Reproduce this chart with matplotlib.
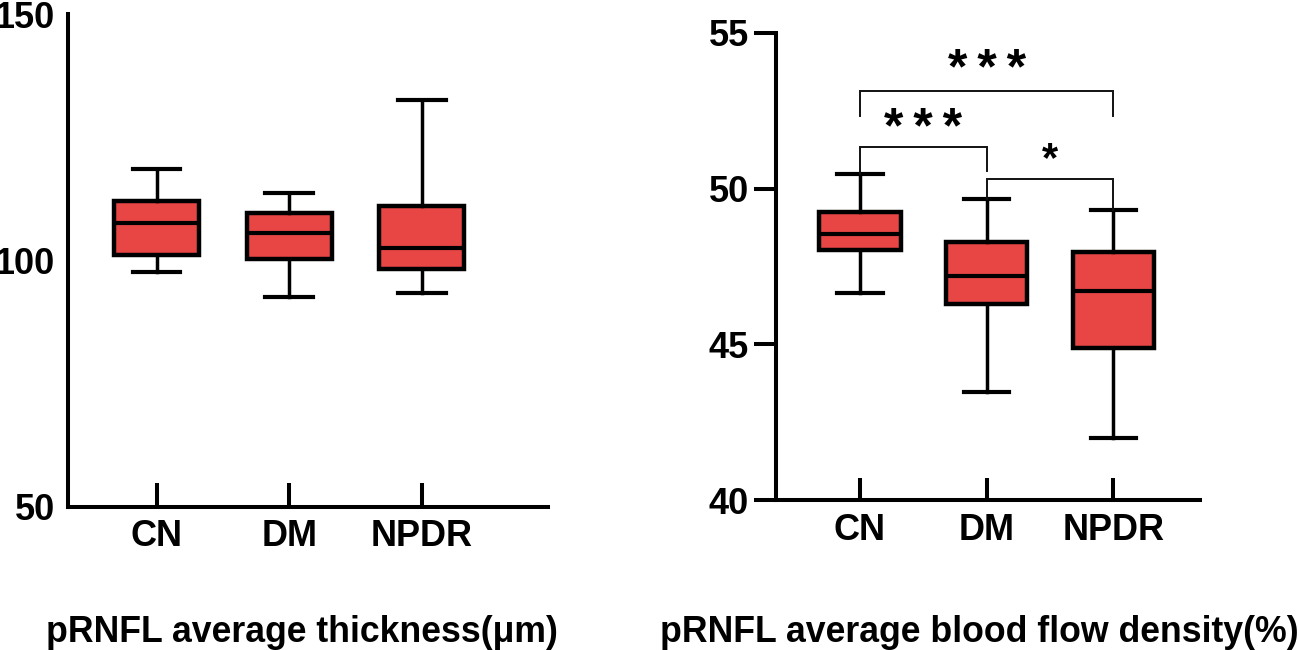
import matplotlib
matplotlib.use("Agg")
import matplotlib.pyplot as plt

plt.rcParams['font.family'] = ['Liberation Sans', 'DejaVu Sans']
plt.rcParams['font.weight'] = 'bold'

categories = ["CN", "DM", "NPDR"]

# Panel A: pRNFL average thickness (um)
thk_whislo = [97.7, 92.6, 93.4]
thk_q1 = [101.1, 100.2, 98.2]
thk_med = [107.6, 105.6, 102.6]
thk_q3 = [112.1, 109.6, 111.0]
thk_whishi = [118.6, 113.6, 132.5]
thk_ticks = [50, 100, 150]

# Panel B: pRNFL average blood flow density (%)
bfd_whislo = [46.65, 43.48, 42.0]
bfd_q1 = [48.02, 46.29, 44.89]
bfd_med = [48.55, 47.2, 46.72]
bfd_q3 = [49.24, 48.3, 47.95]
bfd_whishi = [50.47, 49.67, 49.3]
bfd_ticks = [40, 45, 50, 55]

titles = ["pRNFL average thickness(\u03bcm)", "pRNFL average blood flow density(%)"]

# significance brackets: (i, j, bar height, left leg bottom, right leg bottom, label, label x, label y, size)
brackets = [
    (0, 2, 53.13, 52.34, 52.34, "*\u2009*\u2009*", 2.0, 53.77, 36),
    (0, 1, 51.35, 50.47, 50.58, "*\u2009*\u2009*", 1.5, 51.88, 36),
    (1, 2, 50.30, 49.67, 49.30, "*", 2.5, 50.92, 30),
]

RED = "#E84545"
W, H = 1299, 650
fig = plt.figure(figsize=(W / 100, H / 100), dpi=100)

def px_axes(l, r, b, t):
    return fig.add_axes([l / W, 1 - b / H, (r - l) / W, (b - t) / H])

def make_stats(lo, q1, med, q3, hi):
    return [dict(whislo=a, q1=b, med=c, q3=d, whishi=e, label=n)
            for a, b, c, d, e, n in zip(lo, q1, med, q3, hi, categories)]

def draw(ax, stats):
    pos = list(range(1, len(categories) + 1))
    ax.bxp(stats, positions=pos, widths=0.64, capwidths=0.36, patch_artist=True,
           showfliers=False,
           boxprops=dict(facecolor=RED, edgecolor="black", linewidth=3.2),
           medianprops=dict(color="black", linewidth=3.0),
           whiskerprops=dict(color="black", linewidth=2.5),
           capprops=dict(color="black", linewidth=3.0))
    ax.set_xticks(pos)
    ax.set_xticklabels(categories)
    for s in ("top", "right"):
        ax.spines[s].set_visible(False)
    for s in ("left", "bottom"):
        ax.spines[s].set_linewidth(2.9)
    ax.tick_params(axis="x", direction="in", length=17, width=2.9, pad=9, labelsize=26)

# Left panel
ax1 = px_axes(68.3, 548, 506.7, 14)
draw(ax1, make_stats(thk_whislo, thk_q1, thk_med, thk_q3, thk_whishi))
ax1.set_xlim(0.334, 3.952)
ax1.set_ylim(50, 150)
ax1.set_yticks(thk_ticks)
ax1.tick_params(axis="y", length=0, pad=9.5, labelsize=26)

# Right panel
ax2 = px_axes(776, 1200, 500, 33)
draw(ax2, make_stats(bfd_whislo, bfd_q1, bfd_med, bfd_q3, bfd_whishi))
ax2.set_xlim(0.337, 3.684)
ax2.set_ylim(40, 55)
ax2.set_yticks(bfd_ticks)
ax2.tick_params(axis="y", direction="out", length=16, width=2.9, pad=3.5, labelsize=26)
ax2.tick_params(axis="x", length=16)

for i, j, yb, yl, yr, lab, lx, ly, fs in brackets:
    xi, xj = i + 1, j + 1
    ax2.plot([xi, xi, xj, xj], [yl, yb, yb, yr], color="#111111", lw=1.4,
             solid_joinstyle="miter", clip_on=False)
    ax2.text(lx, ly, lab, ha="center", va="center", fontsize=fs, fontweight="bold")

fig.text(302 / W, 1 - 633 / H, titles[0], ha="center", va="center", fontsize=25.7, fontweight="bold")
fig.text(979 / W, 1 - 633 / H, titles[1], ha="center", va="center", fontsize=25.7, fontweight="bold")

fig.savefig("out.png", dpi=100)
